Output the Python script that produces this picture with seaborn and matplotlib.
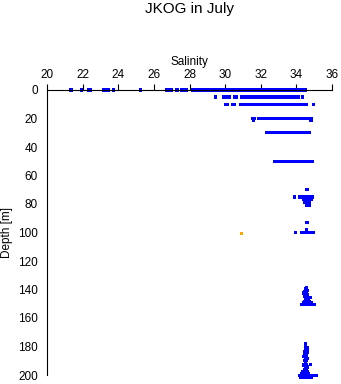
import matplotlib
matplotlib.use("Agg")
import matplotlib.pyplot as plt
import seaborn as sns
import pandas as pd

# ---- data (salinity values per depth level) ----
s_d0 = [21.35, 21.95, 22.35, 22.42, 23.2, 23.28, 23.36, 23.45, 23.75, 25.25,
        26.72, 26.8, 27.0, 27.3, 27.56, 27.64, 27.74, 27.84, 28.2, 28.28,
        28.37, 28.46, 28.55, 28.76, 28.84, 28.93, 29.02, 29.12, 29.3, 29.41,
        29.52, 29.64, 29.75, 29.87, 29.98, 30.1, 30.21, 30.33, 30.44, 30.56,
        30.68, 30.79, 30.9, 31.02, 31.13, 31.25, 31.37, 31.48, 31.6, 31.71,
        31.83, 31.95, 32.06, 32.18, 32.29, 32.41, 32.52, 32.64, 32.76, 32.87,
        32.99, 33.1, 33.22, 33.33, 33.45, 33.57, 33.68, 33.8, 33.91, 34.03,
        34.14, 34.26, 34.38, 34.5]
s_d5 = [29.45, 29.9, 30.0, 30.1, 30.22, 30.56, 30.65, 30.95, 31.05, 31.15,
        31.28, 31.4, 31.52, 31.63, 31.75, 31.87, 31.99, 32.1, 32.22, 32.34,
        32.46, 32.57, 32.69, 32.81, 32.93, 33.04, 33.16, 33.28, 33.4, 33.51,
        33.63, 33.75, 33.87, 33.98, 34.12, 34.35]
s_d10 = [30.02, 30.1, 30.42, 30.52, 30.9, 30.98, 31.15, 31.27, 31.39, 31.51,
         31.63, 31.75, 31.87, 31.99, 32.11, 32.23, 32.35, 32.47, 32.59, 32.71,
         32.83, 32.95, 33.07, 33.19, 33.31, 33.43, 33.55, 33.67, 33.79, 33.91,
         34.03, 34.15, 34.27, 34.39, 34.5, 34.57, 34.97]
s_d20 = [31.55, 31.65, 31.86, 31.98, 32.1, 32.22, 32.34, 32.46, 32.58, 32.7,
         32.82, 32.94, 33.06, 33.18, 33.3, 33.42, 33.54, 33.66, 33.78, 33.9,
         34.02, 34.14, 34.26, 34.38, 34.5, 34.62, 34.74, 34.83]
s_d21 = [31.6, 34.82]
s_d30 = [32.33, 32.45, 32.57, 32.69, 32.81, 32.93, 33.05, 33.17, 33.29, 33.41,
         33.53, 33.65, 33.77, 33.89, 34.01, 34.13, 34.25, 34.37, 34.49, 34.61,
         34.74]
s_d50 = [32.77, 32.89, 33.01, 33.13, 33.25, 33.37, 33.49, 33.61, 33.73, 33.85,
         33.97, 34.09, 34.21, 34.33, 34.45, 34.57, 34.69, 34.8, 34.9]
s_d70 = [34.58, 34.62]
s_d75 = [33.9, 34.18, 34.3, 34.42, 34.54, 34.66, 34.78, 34.9]
s_d77 = [34.4, 34.5, 34.6, 34.7, 34.85]
s_d79 = [34.45, 34.55, 34.65, 34.75]
s_d81 = [34.6, 34.7]
s_d93 = [34.6]
s_d98 = [34.57]
s_d100 = [33.95, 34.3, 34.42, 34.55, 34.67, 34.8, 34.93]

deep1_depth = [138.5, 139.5, 140.5, 140.5, 141.5, 141.5, 142.5, 142.5, 143.5, 143.5,
               144.5, 144.5, 145.5, 145.5, 145.5, 146.5, 146.5, 147.5, 148.5, 148.5,
               148.5, 149.5, 149.5, 149.5, 149.5, 150.5, 150.5, 150.5, 150.5, 150.5,
               150.5, 150.5]
deep1_sal = [34.57, 34.55, 34.52, 34.62, 34.45, 34.57, 34.42, 34.55, 34.5, 34.62,
             34.48, 34.6, 34.5, 34.62, 34.8, 34.52, 34.65, 34.55, 34.45, 34.6,
             34.75, 34.4, 34.55, 34.7, 34.85, 34.29, 34.4, 34.52, 34.65, 34.78,
             34.9, 35.02]

deep2_depth = [178, 179.5, 181, 181, 182.5, 184, 184, 185.5, 185.5, 187, 187,
               188.5, 188.5, 190, 190, 191.5, 192.5, 193, 193, 194.5, 194.5,
               196, 196, 197.5, 197.5, 197.5, 199, 199, 199, 199,
               200.5, 200.5, 200.5, 200.5, 200.5, 200.5, 200.5, 200.5,
               201.5, 201.5, 201.5, 201.5, 201.5]
deep2_sal = [34.52, 34.5, 34.55, 34.62, 34.58, 34.48, 34.6, 34.45, 34.58, 34.4, 34.55,
             34.5, 34.62, 34.45, 34.57, 34.5, 34.8, 34.42, 34.58, 34.5, 34.6,
             34.45, 34.55, 34.35, 34.5, 34.62, 34.3, 34.42, 34.55, 34.68,
             34.2, 34.32, 34.45, 34.58, 34.7, 34.85, 35.0, 35.12,
             34.25, 34.4, 34.55, 34.7, 34.85]

odd_depth = [100.5]
odd_sal = [30.92]

x_ticks = [20, 22, 24, 26, 28, 30, 32, 34, 36]
y_ticks = [0, 20, 40, 60, 80, 100, 120, 140, 160, 180, 200]

# ---- build table ----
rows = []
levels = {0: s_d0, 5: s_d5, 10: s_d10, 20: s_d20, 21: s_d21, 30: s_d30, 50: s_d50,
          70: s_d70, 75: s_d75, 77: s_d77, 79: s_d79, 81: s_d81, 93: s_d93,
          98: s_d98, 100: s_d100}
for d, vals in levels.items():
    for s in vals:
        rows.append((d, s, "main"))
for d, s in zip(deep1_depth, deep1_sal):
    rows.append((d, s, "main"))
for d, s in zip(deep2_depth, deep2_sal):
    rows.append((d, s, "main"))
for d, s in zip(odd_depth, odd_sal):
    rows.append((d, s, "odd"))
df = pd.DataFrame(rows, columns=["Depth", "Salinity", "group"])

sns.set_style("white")
plt.rcParams["font.family"] = ["Liberation Sans", "DejaVu Sans"]
for key in ["text.color", "axes.labelcolor", "xtick.color", "ytick.color"]:
    plt.rcParams[key] = "black"

fig = plt.figure(figsize=(3.41, 3.84), dpi=100)
ax = fig.add_axes([47 / 341, 1 - 375 / 384, 285 / 341, 285 / 384])

sns.scatterplot(data=df, x="Salinity", y="Depth", hue="group",
                palette={"main": "#0000FF", "odd": "#FFA500"},
                marker="s", s=6, linewidth=0, legend=False, ax=ax,
                clip_on=False)

ax.set_xlim(20, 36)
ax.set_ylim(200, 0)
ax.set_xticks(x_ticks)
ax.set_yticks(y_ticks)
ax.xaxis.tick_top()
ax.xaxis.set_label_position("top")
ax.set_xlabel("Salinity", fontsize=8.5, labelpad=3)
ax.set_ylabel("Depth [m]", fontsize=8.5, labelpad=4)
ax.tick_params(axis="both", which="major", labelsize=8.5, length=4.5, width=0.8,
               color="black", labelcolor="black", direction="out", pad=2)
for side in ["right", "bottom"]:
    ax.spines[side].set_visible(False)
for side in ["top", "left"]:
    ax.spines[side].set_color("black")
    ax.spines[side].set_linewidth(0.8)
ax.grid(False)

fig.text(189.5 / 341, 1 - 9 / 384, "JKOG in July", ha="center", va="center",
         fontsize=11, color="black")

fig.savefig("out.png", dpi=100)
